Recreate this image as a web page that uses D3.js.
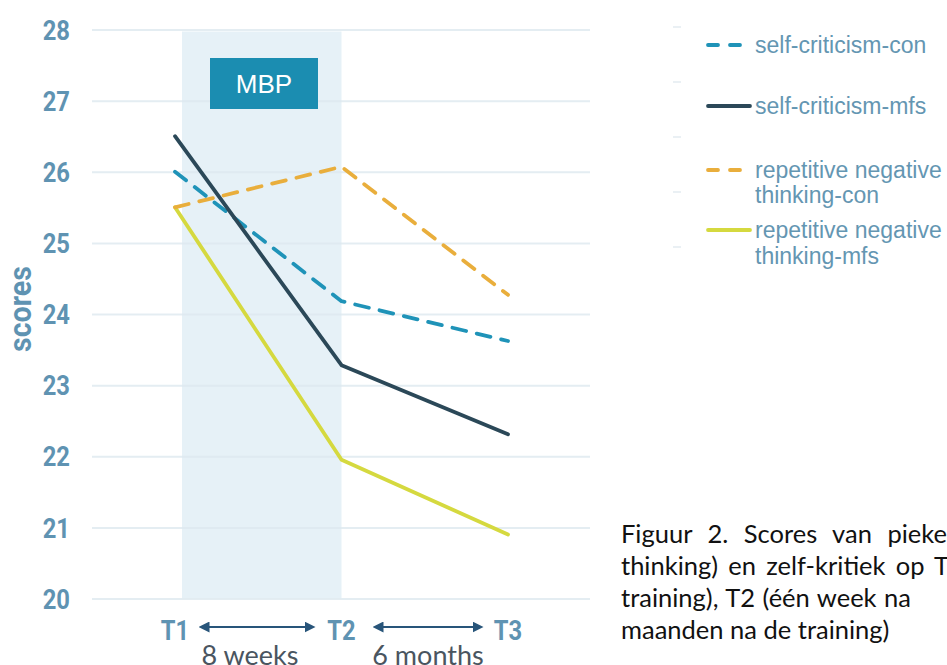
<!DOCTYPE html>
<html><head><meta charset="utf-8">
<script src="https://cdn.jsdelivr.net/npm/d3@7"></script>
<style>html,body{margin:0;padding:0;background:#fff;overflow:hidden}</style>
</head><body>
<svg id="c" width="947" height="665"></svg>
<script>
const times = ["T1","T2","T3"];
const yTicks = [20,21,22,23,24,25,26,27,28];
const seriesNames = ["self-criticism-con","self-criticism-mfs","repetitive negative thinking-con","repetitive negative thinking-mfs"];
const scCon = [26.0, 24.18, 23.62];
const scMfs = [26.5, 23.28, 22.31];
const rntCon = [25.5, 26.07, 24.27];
const rntMfs = [25.5, 21.95, 20.9];
const intervals = ["8 weeks","6 months"];
const captionVisible = ["Figuur 2. Scores van pieke","thinking) en zelf-kritiek op T","training), T2 (één week na","maanden na de training)"];
const captionRest = ["ren (repetitive negative","1 (vóór de training),"," de training) en T3 (zes",""];

const svg = d3.select("#c");
const x = d3.scalePoint().domain(times).range([175, 508]);
const y = d3.scaleLinear().domain([20, 28]).range([598.5, 29.5]);
const labelColor = "#5f93b2";

// shaded MBP band
svg.append("rect").attr("x", x("T1") + 7).attr("y", y(28) + 2)
  .attr("width", x("T2") - x("T1") - 7).attr("height", y(20) - y(28) - 2)
  .attr("fill", "#e6f1f7");

// grid + y tick labels
const ya = svg.append("g").attr("transform", "translate(92,0)")
  .call(d3.axisLeft(y).tickValues(yTicks).tickSize(-498).tickPadding(22).tickFormat(d3.format("d")));
ya.select(".domain").remove();
ya.selectAll(".tick line").attr("stroke", "#dde8ef").attr("stroke-width", 2).attr("stroke-opacity", 0.8);
ya.selectAll(".tick text").attr("fill", labelColor).attr("font-family", "Roboto, sans-serif")
  .attr("font-weight", "bold").attr("font-size", 27).attr("dy", "0.36em").attr("transform", "scale(0.88,1)")
  .attr("x", -22/0.88);

// y label
svg.append("text").attr("transform", "translate(31,309) rotate(-90) scale(0.92,1)").attr("text-anchor", "middle")
  .attr("fill", labelColor).attr("font-family", "Roboto, sans-serif").attr("font-weight", "bold")
  .attr("font-size", 31).text("scores");

// MBP box
svg.append("rect").attr("x", 210).attr("y", 58).attr("width", 108).attr("height", 51).attr("fill", "#1b8db1");
svg.append("text").attr("x", 264).attr("y", 93).attr("text-anchor", "middle").attr("fill", "#fff")
  .attr("font-family", "'Liberation Sans', Arial, sans-serif").attr("font-size", 26).text("MBP");

// lines
const styles = [
  {data: scCon, color: "#1f93b8", dash: "14,11"},
  {data: scMfs, color: "#2b4858", dash: null},
  {data: rntCon, color: "#e9ae3c", dash: "14,11"},
  {data: rntMfs, color: "#d5d93f", dash: null}
];
const line = d3.line().x((d, i) => x(times[i])).y(d => y(d));
[3, 2, 0, 1].forEach(k => {
  const s = styles[k];
  svg.append("path").attr("d", line(s.data)).attr("fill", "none").attr("stroke", s.color)
    .attr("stroke-width", 3.8).attr("stroke-linecap", "round").attr("stroke-linejoin", "round")
    .attr("stroke-dasharray", s.dash);
});

// x labels
times.forEach(t => {
  svg.append("text").attr("transform", `translate(${x(t)},640) scale(0.88,1)`).attr("text-anchor", "middle")
    .attr("fill", labelColor).attr("font-family", "Roboto, sans-serif").attr("font-weight", "bold")
    .attr("font-size", 27).text(t);
});
// arrows
const defs = svg.append("defs");
defs.append("marker").attr("id", "ma").attr("viewBox", "0 0 10 10").attr("refX", 5).attr("refY", 5)
  .attr("markerWidth", 5).attr("markerHeight", 5).attr("orient", "auto-start-reverse")
  .append("path").attr("d", "M0,0L10,5L0,10z").attr("fill", "#28557a");
const arrowSpans = [[198, 316], [372, 484]];
const intervalCenters = [250, 428];
arrowSpans.forEach((a, i) => {
  svg.append("line").attr("x1", a[0] + 6).attr("x2", a[1] - 6).attr("y1", 627).attr("y2", 627)
    .attr("stroke", "#28557a").attr("stroke-width", 2.2)
    .attr("marker-start", "url(#ma)").attr("marker-end", "url(#ma)");
  svg.append("text").attr("x", intervalCenters[i]).attr("y", 665).attr("text-anchor", "middle")
    .attr("fill", "#4a5560").attr("font-family", "Lato, 'Open Sans', sans-serif").attr("font-size", 27)
    .text(intervals[i]);
});

// legend
const legY = [[45], [106], [170, 195], [230, 256]];
[27, 82, 137, 192, 247].forEach(v => {
  svg.append("line").attr("x1", 673).attr("x2", 681).attr("y1", v).attr("y2", v)
    .attr("stroke", "#e3ebf0").attr("stroke-width", 1.5);
});
styles.forEach((s, i) => {
  const ly = legY[i][0];
  svg.append("line").attr("x1", 708).attr("x2", 750).attr("y1", ly).attr("y2", ly)
    .attr("stroke", s.color).attr("stroke-width", 3.8).attr("stroke-linecap", "round")
    .attr("stroke-dasharray", s.dash ? "10,12" : null);
  const name = seriesNames[i];
  const parts = name.startsWith("repetitive") ? ["repetitive negative", name.replace("repetitive negative ", "")] : [name];
  parts.forEach((p, j) => {
    svg.append("text").attr("x", 755).attr("y", legY[i][j]).attr("dy", "0.35em")
      .attr("fill", "#6496b2").attr("font-family", "'Liberation Sans', Arial, sans-serif")
      .attr("font-size", 23).text(p);
  });
});

// caption (justified text, running past the right edge as in the source)
const capY = [534, 566, 598, 630];
const capTargets = [326, 328, 290, null];
captionVisible.forEach((c, i) => {
  const family = "Lato, 'Open Sans', sans-serif", size = 25.5;
  let ws = 0;
  if (capTargets[i]) {
    const tmp = svg.append("text").attr("font-family", family).attr("font-size", size).text(c);
    const w = tmp.node().getComputedTextLength();
    tmp.remove();
    const n = (c.match(/ /g) || []).length;
    ws = Math.max(0, (capTargets[i] - w) / n);
  }
  const t = svg.append("text").attr("x", 621).attr("y", capY[i]).attr("dy", "0.35em")
    .attr("fill", "#111").attr("font-family", family).attr("font-size", size)
    .attr("word-spacing", ws).style("white-space", "pre");
  t.append("tspan").text(c);
  if (captionRest[i]) {
    // the rest of the justified line lies beyond the right edge
    if (captionRest[i].startsWith(" ")) t.append("tspan").attr("x", 960).text(captionRest[i].trim());
    else t.append("tspan").text(captionRest[i]);
  }
});
</script>
</body></html>
